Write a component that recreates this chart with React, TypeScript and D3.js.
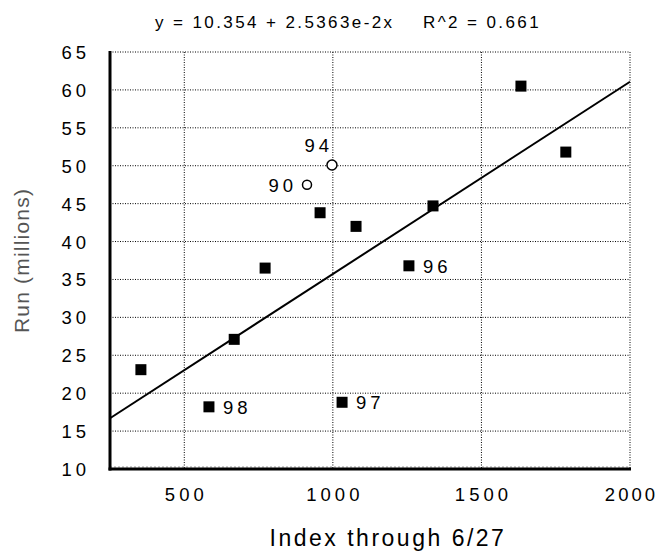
import React from "react";
import * as d3 from "d3";

const squareX = [354, 583, 668, 772, 957, 1078, 1031, 1256, 1337, 1633, 1784];
const squareY = [23.1, 18.2, 27.1, 36.5, 43.8, 42.0, 18.8, 36.8, 44.7, 60.5, 51.8];
const squareLabels = ["", "98", "", "", "", "", "97", "96", "", "", ""];
const circleX = [913, 997];
const circleY = [47.5, 50.1];
const circleLabels = ["90", "94"];
const xTicks = [500, 1000, 1500, 2000];
const yTicks = [10, 15, 20, 25, 30, 35, 40, 45, 50, 55, 60, 65];
const intercept = 10.354;
const slope = 2.5363e-2;
const title = "y = 10.354 + 2.5363e-2x    R^2 = 0.661";
const xTitle = "Index through 6/27";
const yTitle = "Run (millions)";

export default function App() {
  const W = 659, H = 552;
  const L = 110, R = 630, T = 52, B = 469;
  const x = d3.scaleLinear().domain([250, 2000]).range([L, R]);
  const y = d3.scaleLinear().domain([10, 65]).range([B, T]);
  const font = "Liberation Sans, Arial, sans-serif";
  const line = d3.line<number>().x((d) => x(d)).y((d) => y(intercept + slope * d));
  const sq = 11;
  const nf = 18.5, ls = 4;
  return (
    <svg width={W} height={H} style={{ position: "absolute", left: 0, top: 0, background: "#fff" }} fontFamily={font}>
      <rect x={0} y={0} width={W} height={H} fill="#fff" />
      <text x={348} y={28} textAnchor="middle" fontSize={17} letterSpacing={2.4} fill="#000" style={{ whiteSpace: "pre" }}>{title}</text>
      {yTicks.filter((t) => t > 10).map((t) => (
        <line key={"gy" + t} x1={L} x2={R} y1={y(t)} y2={y(t)} stroke="#000" strokeWidth={1} strokeDasharray="1,1.5" />
      ))}
      {xTicks.map((t) => (
        <line key={"gx" + t} x1={x(t)} x2={x(t)} y1={T} y2={B} stroke="#000" strokeWidth={1} strokeDasharray="1,1.5" />
      ))}
      <line x1={L} x2={R} y1={B - 2} y2={B - 2} stroke="#999" strokeWidth={1} strokeDasharray="2,2" />
      <line x1={L} x2={L} y1={T - 1} y2={B + 1.5} stroke="#000" strokeWidth={3} />
      <line x1={L - 1.5} x2={R + 1} y1={B} y2={B} stroke="#000" strokeWidth={3} />
      <path d={line([250, 2000]) || ""} fill="none" stroke="#000" strokeWidth={2} />
      {squareX.map((v, i) => (
        <g key={"s" + i}>
          <rect x={x(v) - sq / 2} y={y(squareY[i]) - sq / 2} width={sq} height={sq} fill="#000" />
          {squareLabels[i] && (
            <text x={x(v) + 14} y={y(squareY[i]) + 7} fontSize={nf} letterSpacing={ls} fill="#000">{squareLabels[i]}</text>
          )}
        </g>
      ))}
      {circleX.map((v, i) => (
        <circle key={"c" + i} cx={x(v)} cy={y(circleY[i])} r={i === 0 ? 4.5 : 5} fill="#fff" stroke="#000" strokeWidth={1.5} />
      ))}
      <text x={x(circleX[0]) - 14 + ls} y={y(circleY[0]) + 7} textAnchor="end" fontSize={nf} letterSpacing={ls} fill="#000">{circleLabels[0]}</text>
      <text x={x(circleX[1]) - 3 + ls} y={y(circleY[1]) - 13} textAnchor="end" fontSize={nf} letterSpacing={ls} fill="#000">{circleLabels[1]}</text>
      {yTicks.map((t) => (
        <text key={"ty" + t} x={L - 24 + ls} y={y(t) + 7} textAnchor="end" fontSize={nf} letterSpacing={ls} fill="#000">{t}</text>
      ))}
      {xTicks.map((t) => (
        <text key={"tx" + t} x={t === 2000 ? W - 1 : x(t) + ls / 2} y={B + 32} textAnchor={t === 2000 ? "end" : "middle"} fontSize={nf} letterSpacing={t === 2000 ? 3 : ls} fill="#000">{t}</text>
      ))}
      <text x={388} y={546} textAnchor="middle" fontSize={23} letterSpacing={2.5} fill="#000">{xTitle}</text>
      <text transform={`translate(29, ${(T + B) / 2}) rotate(-90)`} textAnchor="middle" fontSize={21} letterSpacing={1.2} fill="#555">{yTitle}</text>
    </svg>
  );
}
